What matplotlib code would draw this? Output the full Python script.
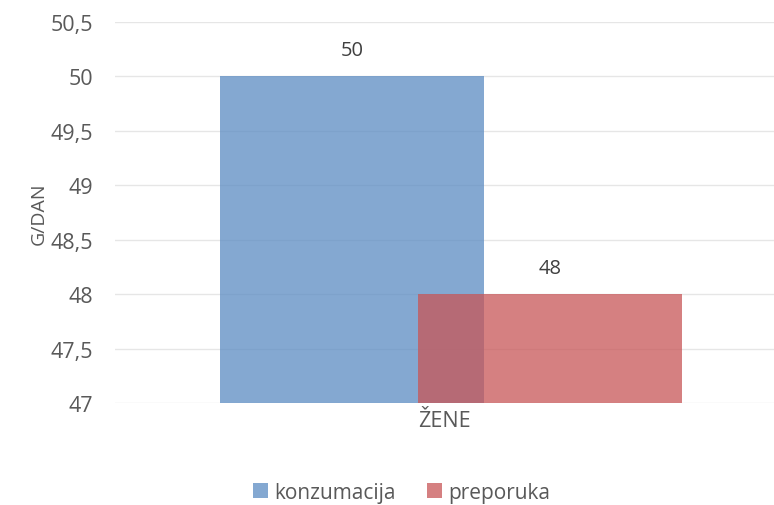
import matplotlib.pyplot as plt
from matplotlib.ticker import FuncFormatter

plt.rcParams['font.family'] = ['Open Sans', 'DejaVu Sans']

categories = ["ŽENE"]
series = ["konzumacija", "preporuka"]
values = [50, 48]
colors = ["#5b8bc2", "#c85657"]
offsets = [-0.14, 0.16]

fig = plt.figure(figsize=(7.74, 5.06), dpi=100)
ax = fig.add_axes([0.1486, 0.2016, 0.8514, 0.753])

for name, val, col, off in zip(series, values, colors, offsets):
    ax.bar(off, val - 47, bottom=47, width=0.4, color=col, alpha=0.75,
           label=name, zorder=2)
    ax.text(off, val + 0.15, str(val), ha="center", va="bottom",
            fontsize=14.5, color="#404040")

ax.set_xlim(-0.5, 0.5)
ax.set_ylim(47, 50.5)
ax.set_yticks([47 + 0.5 * i for i in range(8)])
ax.yaxis.set_major_formatter(FuncFormatter(lambda v, p: f"{v:g}".replace(".", ",")))
ax.set_xticks([0])
ax.set_xticklabels(categories)
ax.tick_params(axis="both", length=0, labelsize=15.5, labelcolor="#595959")
ax.tick_params(axis="y", pad=16)
ax.tick_params(axis="x", pad=5)
ax.grid(axis="y", color="#e6e6e6", linewidth=1, zorder=0)
for s in ax.spines.values():
    s.set_visible(False)
ax.set_ylabel("G/DAN", fontsize=14, color="#595959", labelpad=2)

ax.legend(loc="center", bbox_to_anchor=(0.435, -0.235), ncol=2, frameon=False,
          fontsize=15, labelcolor="#595959", handlelength=0.7, handleheight=0.7,
          handletextpad=0.3, columnspacing=1.5)

fig.savefig("out.png", dpi=100)
